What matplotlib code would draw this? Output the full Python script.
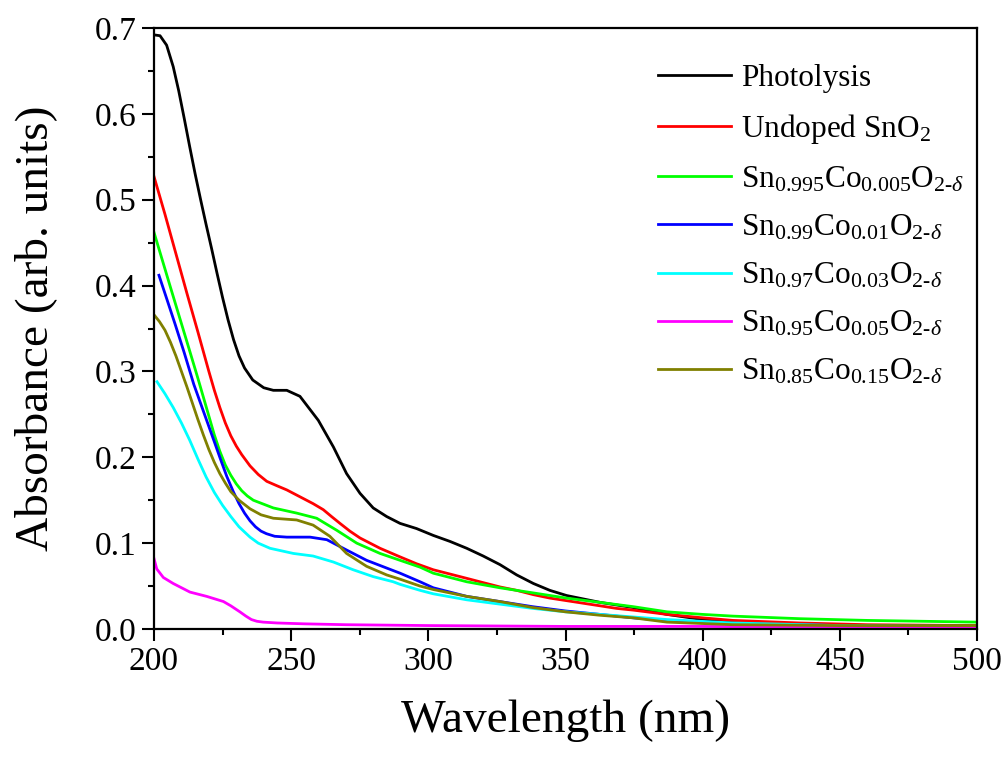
import matplotlib
matplotlib.use("Agg")
import matplotlib.pyplot as plt
from matplotlib.ticker import MultipleLocator, FormatStrFormatter

plt.rcParams['font.family'] = ['Liberation Serif', 'DejaVu Serif']
plt.rcParams['mathtext.fontset'] = 'custom'
plt.rcParams['mathtext.rm'] = 'Liberation Serif'
plt.rcParams['mathtext.it'] = 'Liberation Serif:italic'
plt.rcParams['mathtext.bf'] = 'Liberation Serif:bold'

# ---- data ----
photo_x = [200, 202.2, 204.6, 207, 209, 211, 213, 215, 217, 219, 221, 223, 225, 227, 229, 231, 233,
           236, 240, 243.5, 248.4, 253.2, 259.9, 265.4, 270.2, 275.1, 279.9, 284.8, 289.7,
           295.7, 301.8, 307.9, 314, 320, 326.1, 332.2, 338.3, 344.3, 350.4, 356.5, 362.6, 368.6,
           374.7, 387, 400, 411, 425, 450, 475, 500]
photo_y = [0.692, 0.691, 0.680, 0.655, 0.627, 0.595, 0.562, 0.530, 0.500, 0.471, 0.443, 0.414, 0.386,
           0.360, 0.337, 0.318, 0.304, 0.290, 0.281, 0.278, 0.278, 0.271, 0.243, 0.212, 0.181, 0.158,
           0.141, 0.131, 0.123, 0.117, 0.109, 0.102, 0.094, 0.085, 0.075, 0.063, 0.053, 0.045, 0.039,
           0.035, 0.031, 0.028, 0.025, 0.017, 0.011, 0.008, 0.006, 0.004, 0.003, 0.003]

undoped_x = [200, 204, 208, 212, 216, 220, 222, 224, 226, 228, 230, 232, 235, 238, 241.1, 244.7, 248.4,
             254.4, 258, 261.7, 264.7, 267.8, 271.4, 275.1, 282.4, 289.7, 295.7, 301.8, 307.9, 314,
             320, 326.1, 332.2, 338.3, 344.3, 350.4, 356.5, 362.6, 368.6, 374.7, 387, 400, 411,
             435.5, 460, 500]
undoped_y = [0.527, 0.483, 0.437, 0.391, 0.346, 0.300, 0.278, 0.258, 0.240, 0.225, 0.213, 0.203, 0.190,
             0.180, 0.172, 0.167, 0.162, 0.152, 0.146, 0.139, 0.131, 0.123, 0.114, 0.106, 0.094, 0.084,
             0.076, 0.069, 0.064, 0.059, 0.054, 0.049, 0.045, 0.040, 0.036, 0.033, 0.030, 0.027, 0.024,
             0.022, 0.017, 0.013, 0.010, 0.007, 0.005, 0.004]

co005_x = [200, 203, 206, 209.5, 213, 216, 218, 220, 222, 224, 226, 228, 230, 232, 234, 236.2, 243.5,
           252, 259.3, 266.6, 273.9, 282.4, 289.7, 297, 301.8, 307.9, 314, 326.1, 338.3, 350.4, 362.6,
           374.7, 387, 400, 411, 435.5, 460, 480, 500]
co005_y = [0.462, 0.430, 0.398, 0.361, 0.324, 0.292, 0.270, 0.248, 0.226, 0.207, 0.191, 0.179, 0.169,
           0.161, 0.155, 0.150, 0.141, 0.135, 0.129, 0.115, 0.100, 0.088, 0.080, 0.072, 0.065, 0.060,
           0.055, 0.048, 0.042, 0.036, 0.031, 0.026, 0.020, 0.017, 0.015, 0.012, 0.010, 0.009, 0.008]

co01_x = [201.8, 204.6, 207.7, 211, 214.5, 219.2, 222, 224.1, 226.5, 228.9, 231, 233, 235, 237, 239,
          241, 244, 248.4, 256.9, 263, 270.2, 277.5, 284.8, 289.7, 297, 301.8, 307.9, 314, 326, 338,
          350, 362.6, 374.7, 387, 411, 450, 500]
co01_y = [0.412, 0.385, 0.355, 0.322, 0.285, 0.243, 0.218, 0.199, 0.178, 0.160, 0.146, 0.135, 0.126,
          0.119, 0.114, 0.111, 0.108, 0.107, 0.107, 0.104, 0.092, 0.080, 0.071, 0.065, 0.055, 0.048,
          0.043, 0.038, 0.032, 0.026, 0.021, 0.017, 0.013, 0.010, 0.006, 0.004, 0.003]

co03_x = [201.1, 204, 207, 210, 213, 216, 219, 222, 225, 228, 231, 235, 238, 242.3, 250.8, 258, 265.4,
          272.6, 279.9, 287.2, 289.7, 297, 301.8, 314, 326, 338, 350, 362.6, 374.7, 387, 411, 450, 500]
co03_y = [0.288, 0.274, 0.258, 0.240, 0.220, 0.198, 0.177, 0.159, 0.144, 0.131, 0.119, 0.107, 0.100,
          0.094, 0.088, 0.085, 0.078, 0.069, 0.061, 0.055, 0.052, 0.045, 0.041, 0.034, 0.029, 0.024,
          0.020, 0.017, 0.014, 0.011, 0.007, 0.004, 0.003]

co05_x = [200, 201, 203.4, 207, 213.1, 219.2, 225.3, 228, 231.3, 233.5, 235.5, 237.5, 239.8, 245, 255,
          270, 300, 350, 400, 450, 500]
co05_y = [0.082, 0.070, 0.060, 0.053, 0.043, 0.038, 0.032, 0.027, 0.020, 0.015, 0.011, 0.009, 0.0080,
          0.007, 0.006, 0.005, 0.004, 0.003, 0.003, 0.002, 0.002]

co15_x = [200, 202, 204, 206, 208, 210, 212, 214, 216, 218, 220, 222, 224, 226, 228, 231, 235, 239,
          243.5, 252, 258, 264.1, 270.2, 277.5, 284.8, 289.7, 297, 301.8, 314, 326, 338, 350, 362.6,
          374.7, 387, 411, 450, 500]
co15_y = [0.366, 0.358, 0.348, 0.334, 0.318, 0.300, 0.282, 0.263, 0.244, 0.226, 0.209, 0.194, 0.181,
          0.170, 0.160, 0.150, 0.140, 0.133, 0.129, 0.127, 0.121, 0.108, 0.088, 0.073, 0.063, 0.058,
          0.050, 0.046, 0.038, 0.032, 0.025, 0.020, 0.016, 0.013, 0.008, 0.005, 0.004, 0.004]

series = [
    (photo_x, photo_y, '#000000', 'Photolysis'),
    (undoped_x, undoped_y, '#ff0000', r'Undoped SnO$_{2}$'),
    (co005_x, co005_y, '#00ff00', r'Sn$_{0.995}$Co$_{0.005}$O$_{2\text{-}\delta}$'),
    (co01_x, co01_y, '#0000ff', r'Sn$_{0.99}$Co$_{0.01}$O$_{2\text{-}\delta}$'),
    (co03_x, co03_y, '#00ffff', r'Sn$_{0.97}$Co$_{0.03}$O$_{2\text{-}\delta}$'),
    (co05_x, co05_y, '#ff00ff', r'Sn$_{0.95}$Co$_{0.05}$O$_{2\text{-}\delta}$'),
    (co15_x, co15_y, '#808000', r'Sn$_{0.85}$Co$_{0.15}$O$_{2\text{-}\delta}$'),
]

fig = plt.figure(figsize=(10.08, 7.6), dpi=100)
ax = fig.add_axes([154/1008, 1-629/760, (977-154)/1008, (629-28)/760])

for x, y, c, lab in series:
    ax.plot(x, y, color=c, lw=2.0, label=lab, solid_joinstyle='round')

ax.set_xlim(200, 500)
ax.set_ylim(0.0, 0.7)
ax.xaxis.set_major_locator(MultipleLocator(50))
ax.xaxis.set_minor_locator(MultipleLocator(25))
ax.yaxis.set_major_locator(MultipleLocator(0.1))
ax.yaxis.set_minor_locator(MultipleLocator(0.05))
ax.yaxis.set_major_formatter(FormatStrFormatter('%.1f'))

for sp in ax.spines.values():
    sp.set_linewidth(1.6)

ax.tick_params(axis='both', which='major', direction='out', length=8.5, width=1.5,
               labelsize=24, pad=4)
ax.tick_params(axis='both', which='minor', direction='out', length=4.5, width=1.5)
ax.tick_params(which='both', top=False, right=False)

ax.set_xlabel('Wavelength (nm)', fontsize=34, labelpad=16)
ax.set_ylabel('Absorbance (arb. units)', fontsize=34, labelpad=27)

leg = ax.legend(loc='upper left', bbox_to_anchor=(658/1008, 1-64/760),
                bbox_transform=fig.transFigure, frameon=False, fontsize=22.5,
                handlelength=2.35, handletextpad=0.3, borderpad=0, borderaxespad=0,
                labelspacing=0.6)

fig.savefig('out.png', dpi=100)
